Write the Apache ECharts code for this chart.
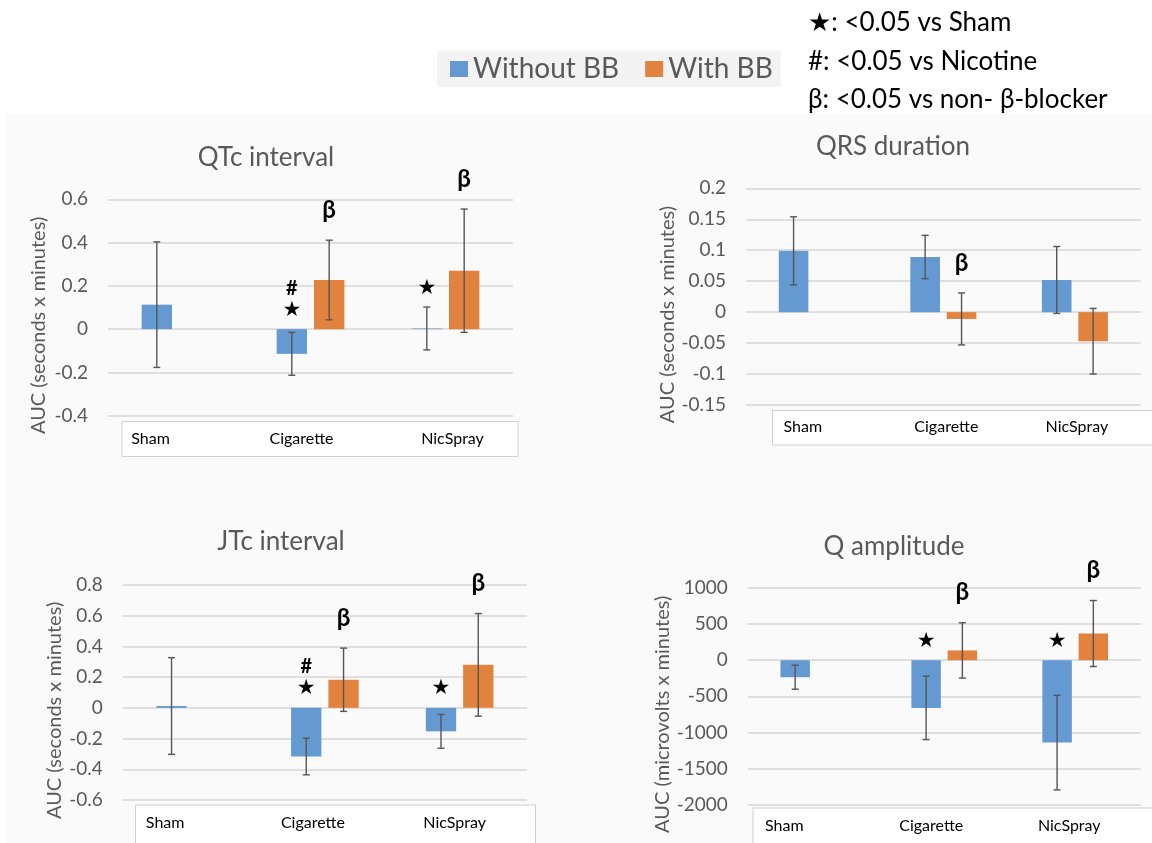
<!DOCTYPE html>
<html>
<head>
<meta charset="utf-8">
<script src="https://cdn.jsdelivr.net/npm/echarts@6/dist/echarts.min.js"></script>
<style>
html,body{margin:0;padding:0;background:#fff;}
#chart{width:1152px;height:843px;}
</style>
</head>
<body>
<div id="chart"></div>
<script>
// ---------------- data ----------------
const categories = ['Sham', 'Cigarette', 'NicSpray'];
const seriesNames = ['Without BB', 'With BB'];

const qtcWithout = [0.113, -0.114, 0.003];
const qtcWithoutErr = [0.290, 0.099, 0.099];
const qtcWith = [null, 0.227, 0.270];
const qtcWithErr = [null, 0.184, 0.285];
const qtcWithoutMarks = ['', '★#', '★'];
const qtcWithMarks = ['', 'β', 'β'];

const qrsWithout = [0.099, 0.089, 0.052];
const qrsWithoutErr = [0.055, 0.035, 0.054];
const qrsWith = [null, -0.011, -0.047];
const qrsWithErr = [null, 0.042, 0.053];
const qrsWithoutMarks = ['', '', ''];
const qrsWithMarks = ['', 'β', ''];

const jtcWithout = [0.012, -0.317, -0.153];
const jtcWithoutErr = [0.315, 0.119, 0.110];
const jtcWith = [null, 0.183, 0.280];
const jtcWithErr = [null, 0.206, 0.334];
const jtcWithoutMarks = ['', '★#', '★'];
const jtcWithMarks = ['', 'β', 'β'];

const qampWithout = [-235, -660, -1140];
const qampWithoutErr = [166, 439, 655];
const qampWith = [null, 136, 370];
const qampWithErr = [null, 383, 457];
const qampWithoutMarks = ['', '★', '★'];
const qampWithMarks = ['', 'β', 'β'];

const noteLines = ['★: <0.05 vs Sham', '#: <0.05 vs Nicotine', 'β: <0.05 vs non- β-blocker'];

// ---------------- styling / layout ----------------
const FONT = 'Lato, "Noto Sans", "DejaVu Sans", sans-serif';
const BLUE = '#6499d1';
const ORANGE = '#e2823f';
const GRAY = '#595959';
const BAR_W = 0.225;
const BAR_GAP = 0.23;
const OFFSET_FRAC = (BAR_W + BAR_W * BAR_GAP) / 2;
const NAME_PAD = '\u00a0'.repeat(7);

const panels = [
  { title: 'QTc interval', titleX: 266, titleY: 158, yName: 'AUC (seconds x minutes)',
    grid: { left: 108, top: 199.3, width: 405, height: 216.4 }, min: -0.4, max: 0.6, interval: 0.2,
    nameGap: 59, labelMargin: 15, shifts: [-25, -9, 7], box: [122, 421.5, 396, 35],
    without: qtcWithout, withoutErr: qtcWithoutErr, with: qtcWith, withErr: qtcWithErr,
    withoutMarks: qtcWithoutMarks, withMarks: qtcWithMarks },
  { title: 'QRS duration', titleX: 893, titleY: 147, yName: 'AUC (seconds x minutes)',
    grid: { left: 746, top: 188.3, width: 394.7, height: 216.7 }, min: -0.15, max: 0.2, interval: 0.05,
    nameGap: 68, labelMargin: 14, shifts: [-9, 3, 2], box: [772.5, 410.5, 400, 34.5],
    without: qrsWithout, withoutErr: qrsWithoutErr, with: qrsWith, withErr: qrsWithErr,
    withoutMarks: qrsWithoutMarks, withMarks: qrsWithMarks },
  { title: 'JTc interval', titleX: 281, titleY: 542, yName: 'AUC (seconds x minutes)',
    grid: { left: 122.8, top: 585, width: 404.2, height: 215 }, min: -0.6, max: 0.8, interval: 0.2,
    nameGap: 58, labelMargin: 14.5, shifts: [-25, -12, -5], box: [135.5, 805, 400, 40],
    without: jtcWithout, withoutErr: jtcWithoutErr, with: jtcWith, withErr: jtcWithErr,
    withoutMarks: jtcWithoutMarks, withMarks: jtcWithMarks },
  { title: 'Q amplitude', titleX: 894, titleY: 547, yName: 'AUC (microvolts x minutes)',
    grid: { left: 747.8, top: 588, width: 392.9, height: 216.7 }, min: -2000, max: 1000, interval: 500,
    nameGap: 73, labelMargin: 13, shifts: [-29, -13, -6], box: [753, 808, 420, 40],
    without: qampWithout, withoutErr: qampWithoutErr, with: qampWith, withErr: qampWithErr,
    withoutMarks: qampWithoutMarks, withMarks: qampWithMarks }
];

function labelRich(shifts) {
  const rich = {};
  shifts.forEach((s, i) => {
    rich['s' + i] = {
      fontFamily: FONT, fontSize: 16, color: '#000',
      padding: s < 0 ? [0, -2 * s, 0, 0] : [0, 0, 0, 2 * s]
    };
  });
  return rich;
}

function errorRender(side) {
  return function (params, api) {
    const xi = api.value(0), v = api.value(1), e = api.value(2);
    if (isNaN(v) || isNaN(e)) return;
    const band = api.size([1, 0])[0];
    const c = api.coord([xi, v]);
    const x = c[0] + side * band * OFFSET_FRAC;
    const yt = api.coord([xi, v + e])[1];
    const yb = api.coord([xi, v - e])[1];
    const cap = 3.5;
    const st = { stroke: '#555', lineWidth: 1.4 };
    return { type: 'group', children: [
      { type: 'line', shape: { x1: x, y1: yt, x2: x, y2: yb }, style: st },
      { type: 'line', shape: { x1: x - cap, y1: yt, x2: x + cap, y2: yt }, style: st },
      { type: 'line', shape: { x1: x - cap, y1: yb, x2: x + cap, y2: yb }, style: st }
    ]};
  };
}

function markRender(side) {
  return function (params, api) {
    const xi = api.value(0), v = api.value(1), e = api.value(2);
    const marks = params.context.marks[params.dataIndex];
    if (!marks) return;
    const band = api.size([1, 0])[0];
    const top = isNaN(v) ? 0 : Math.max(0, v + (isNaN(e) ? 0 : e));
    const c = api.coord([xi, top]);
    const x = c[0] + side * band * OFFSET_FRAC;
    const children = [];
    Array.from(marks).forEach((m, i) => {
      let dy, font;
      if (m === 'β') { dy = 30; font = 'bold 24px ' + FONT; }
      else if (m === '★') { dy = 19 + 22 * i; font = '21px "DejaVu Sans", sans-serif'; }
      else { dy = 19 + 22 * i; font = 'bold 20px ' + FONT; }
      children.push({ type: 'text', x: x, y: c[1] - dy,
        style: { text: m, fill: '#000', font: font, align: 'center', verticalAlign: 'middle' } });
    });
    return { type: 'group', children: children };
  };
}

const grids = [], xAxes = [], yAxes = [], series = [], graphics = [];

graphics.push({ type: 'rect', z: -20, shape: { x: 6, y: 115, width: 1146, height: 728 }, style: { fill: '#fafafa' } });

panels.forEach((p, k) => {
  grids.push(Object.assign({ containLabel: false }, p.grid));
  xAxes.push({
    type: 'category', gridIndex: k, data: categories, position: 'bottom',
    axisLine: { show: false, onZero: false }, axisTick: { show: false }, splitLine: { show: false },
    axisLabel: { margin: p.labelMargin, fontFamily: FONT, fontSize: 16, color: '#000', interval: 0,
      formatter: (val, i) => '{s' + i + '|' + val + '}', rich: labelRich(p.shifts) }
  });
  yAxes.push({
    type: 'value', gridIndex: k, min: p.min, max: p.max, interval: p.interval,
    axisLine: { show: false }, axisTick: { show: false },
    splitLine: { show: true, lineStyle: { color: '#d6d6d6', width: 1.5 } },
    axisLabel: { margin: 20, fontFamily: FONT, fontSize: 19, color: GRAY, formatter: v => String(v) },
    name: p.yName + NAME_PAD, nameLocation: 'middle', nameRotate: 90, nameGap: p.nameGap,
    nameTextStyle: { fontFamily: FONT, fontSize: 20, color: GRAY }
  });
  series.push({
    name: seriesNames[0], type: 'bar', xAxisIndex: k, yAxisIndex: k, data: p.without,
    barWidth: (BAR_W * 100) + '%', barGap: (BAR_GAP * 100) + '%', itemStyle: { color: BLUE }, z: 2
  });
  series.push({
    name: seriesNames[1], type: 'bar', xAxisIndex: k, yAxisIndex: k, data: p.with,
    barWidth: (BAR_W * 100) + '%', barGap: (BAR_GAP * 100) + '%', itemStyle: { color: ORANGE }, z: 2
  });
  const errWithout = categories.map((c, i) => [i, p.without[i], p.withoutErr[i]]);
  const errWith = categories.map((c, i) => [i, p.with[i] == null ? NaN : p.with[i], p.withErr[i] == null ? NaN : p.withErr[i]]);
  series.push({ name: 'errA' + k, type: 'custom', xAxisIndex: k, yAxisIndex: k, clip: false, z: 3,
    renderItem: errorRender(-1), data: errWithout });
  series.push({ name: 'errB' + k, type: 'custom', xAxisIndex: k, yAxisIndex: k, clip: false, z: 3,
    renderItem: errorRender(1), data: errWith });
  series.push({ name: 'markA' + k, type: 'custom', xAxisIndex: k, yAxisIndex: k, clip: false, z: 4,
    renderItem: (params, api) => { params.context.marks = p.withoutMarks; return markRender(-1)(params, api); },
    data: errWithout });
  series.push({ name: 'markB' + k, type: 'custom', xAxisIndex: k, yAxisIndex: k, clip: false, z: 4,
    renderItem: (params, api) => { params.context.marks = p.withMarks; return markRender(1)(params, api); },
    data: errWith });

  graphics.push({ type: 'rect', z: -10, shape: { x: p.box[0], y: p.box[1], width: p.box[2], height: p.box[3] },
    style: { fill: '#fff', stroke: '#cfcfcf', lineWidth: 1 } });
  graphics.push({ type: 'text', x: p.titleX, y: p.titleY,
    style: { text: p.title, fill: GRAY, font: '26px ' + FONT, align: 'center', verticalAlign: 'middle' } });
});

noteLines.forEach((t, i) => {
  graphics.push({ type: 'text', x: 808, y: [23, 62, 100][i],
    style: { text: t, fill: '#000', font: '26px ' + FONT, align: 'left', verticalAlign: 'middle' } });
});

const chart = echarts.init(document.getElementById('chart'), null, { renderer: 'canvas' });
chart.setOption({
  animation: false,
  backgroundColor: '#fff',
  grid: grids, xAxis: xAxes, yAxis: yAxes, series: series,
  legend: {
    data: seriesNames, left: 437, top: 51, orient: 'horizontal',
    backgroundColor: '#f3f3f3', padding: [4, 8, 4, 13], itemGap: 26,
    itemWidth: 18, itemHeight: 16, icon: 'rect',
    textStyle: { fontFamily: FONT, fontSize: 28, color: GRAY }
  },
  graphic: graphics
});
</script>
</body>
</html>
